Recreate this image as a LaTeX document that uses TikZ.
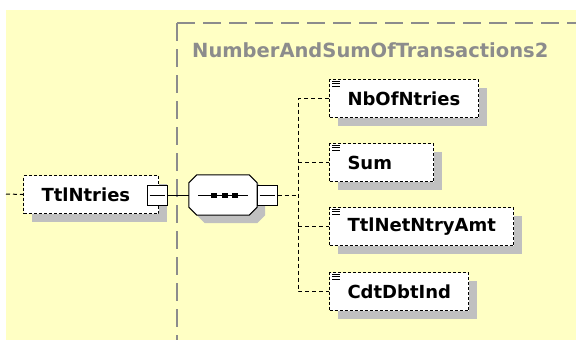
\documentclass[tikz,border=0pt]{standalone}
\usepackage{fontspec}
\setmainfont{DejaVu Sans}
\usetikzlibrary{shadows}
\definecolor{bgyellow}{RGB}{255,255,196}
\definecolor{shadowgray}{RGB}{192,192,192}
\definecolor{framegray}{RGB}{140,140,140}
\tikzset{
  elembox/.style={draw=black, line width=1pt, fill=white, dash pattern=on 3pt off 2pt,
    minimum height=38pt, inner xsep=0pt, inner ysep=0pt, align=left, anchor=north west,
    font=\fontsize{18}{20}\selectfont\bfseries,
    general shadow={fill=shadowgray, shadow xshift=8pt, shadow yshift=-8pt}},
  minusbox/.style={draw=black, line width=1pt, fill=white, minimum size=20pt, inner sep=0pt},
  seqframe/.style={minimum width=68pt, minimum height=40pt, inner sep=0pt},
  octo/.style={draw=black, line width=1pt, fill=white,
    general shadow={fill=shadowgray, shadow xshift=8pt, shadow yshift=-8pt}},
  conn/.style={draw=black, line width=1pt, dash pattern=on 4pt off 3pt},
  solidconn/.style={draw=black, line width=1pt},
  frame/.style={draw=framegray, line width=1.8pt, dash pattern=on 18pt off 8pt},
  listicon/.style={draw=black, line width=0.8pt},
}
\begin{document}
\begin{tikzpicture}[x=1pt,y=-1pt]
\useasboundingbox (0,0) rectangle (576,340);
\fill[white] (0,0) rectangle (576,340);
\fill[bgyellow] (6,10) rectangle (576,340);
\begin{scope}
\clip (0,0) rectangle (576,340);
\draw[frame] (177,23) -- (177,345) (177,23) -- (590,23);
\end{scope}
\node[text=framegray, font=\fontsize{19.5}{22}\selectfont\bfseries, anchor=west, inner sep=0pt] (title) at (192,50) {NumberAndSumOfTransactions2};

% parent element
\coordinate (start) at (6,194);
\node[elembox, minimum width=135pt, text width=135pt] (ttl) at (23,175) {\hspace*{18pt}TtlNtries};
\node[minusbox] (m1) at (157,195) {};
\draw[solidconn] ([xshift=3pt]m1.west) -- ([xshift=-3pt]m1.east);
\draw[conn] (start) -- (ttl.west);

% sequence compositor
\node[seqframe] (seq) at (223,195) {};
\path[octo] ([yshift=-8pt]seq.north west) -- ([xshift=8pt]seq.north west)
  -- ([xshift=-8pt]seq.north east) -- ([yshift=-8pt]seq.north east)
  -- ([yshift=8pt]seq.south east) -- ([xshift=-8pt]seq.south east)
  -- ([xshift=8pt]seq.south west) -- ([yshift=8pt]seq.south west) -- cycle;
\draw[solidconn] (198,195) -- (248,195);
\fill[black] (211,192.5) rectangle (217,197.5);
\fill[black] (221.5,192.5) rectangle (227.5,197.5);
\fill[black] (232,192.5) rectangle (238,197.5);
\node[minusbox] (m2) at (267,195) {};
\draw[solidconn] ([xshift=3pt]m2.west) -- ([xshift=-3pt]m2.east);
\draw[solidconn] (m1.east) -- (seq.west);

% children
\node[elembox, minimum width=149pt, text width=149pt] (c1) at (329,79) {\hspace*{18pt}NbOfNtries};
\node[elembox, minimum width=104pt, text width=104pt] (c2) at (329,143) {\hspace*{18pt}Sum};
\node[elembox, minimum width=184pt, text width=184pt] (c3) at (329,207) {\hspace*{18pt}TtlNetNtryAmt};
\node[elembox, minimum width=139pt, text width=139pt] (c4) at (329,272) {\hspace*{18pt}CdtDbtInd};
\foreach \c in {c1,c2,c3,c4}{
  \draw[listicon] ([shift={(3pt,-2pt)}]\c.north west) -- ++(8,0);
  \draw[listicon] ([shift={(3pt,-4.5pt)}]\c.north west) -- ++(8,0);
  \draw[listicon] ([shift={(3pt,-7pt)}]\c.north west) -- ++(8,0);
}
\coordinate (comb) at (298,195);
\draw[conn] (m2.east) -- (comb);
\draw[conn] (c1.west) -| (298,0 |- c4.west) -- (c4.west);
\draw[conn] (298,0 |- c2.west) -- (c2.west);
\draw[conn] (298,0 |- c3.west) -- (c3.west);
\end{tikzpicture}
\end{document}
